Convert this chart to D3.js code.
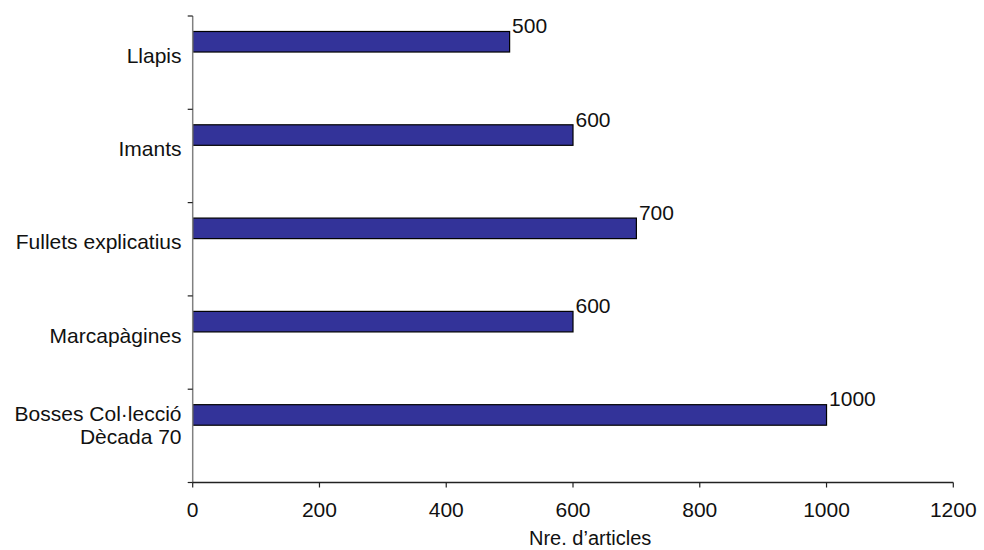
<!DOCTYPE html>
<html>
<head>
<meta charset="utf-8">
<script src="https://cdn.jsdelivr.net/npm/d3@7"></script>
<style>
  html, body { margin: 0; padding: 0; background: #fff; }
  svg { display: block; }
  text { font-family: "Liberation Sans", Arial, Helvetica, sans-serif; fill: #111; }
</style>
</head>
<body>
<svg id="chart" width="984" height="550"></svg>
<script>
// Data
const categories = ["Llapis", "Imants", "Fullets explicatius", "Marcapàgines", "Bosses Col·lecció|Dècada 70"];
const values = [500, 600, 700, 600, 1000];
const xTicks = [0, 200, 400, 600, 800, 1000, 1200];
const xTitle = "Nre. d’articles";

const svg = d3.select("#chart");
const x0 = 192.7, x1 = 953.3, yTop = 16, yBot = 482.5;

const x = d3.scaleLinear().domain([0, 1200]).range([x0, x1]);
const y = d3.scaleBand().domain(categories).range([yTop, yBot]).padding(0);
const bw = y.bandwidth();

// Bars
svg.append("g").selectAll("rect").data(categories).join("rect")
  .attr("x", x(0))
  .attr("y", c => y(c) + bw * 0.166)
  .attr("width", (c, i) => x(values[i]) - x(0))
  .attr("height", bw * 0.22)
  .attr("fill", "#333399")
  .attr("stroke", "#000")
  .attr("stroke-width", 1.2);

// Value labels
svg.append("g").selectAll("text").data(categories).join("text")
  .attr("x", (c, i) => x(values[i]) + 2.5)
  .attr("y", c => y(c) + bw * 0.166 + 1.8)
  .attr("font-size", 21)
  .text((c, i) => values[i]);

// Y axis
svg.append("line")
  .attr("x1", x0).attr("x2", x0).attr("y1", yTop).attr("y2", yBot)
  .attr("stroke", "#808080").attr("stroke-width", 1.5);
const yTickPos = categories.map(c => y(c)).concat([yBot]);
svg.append("g").selectAll("line").data(yTickPos).join("line")
  .attr("x1", x0 - 5).attr("x2", x0).attr("y1", d => d).attr("y2", d => d)
  .attr("stroke", "#222").attr("stroke-width", 1.2);

// Category labels
const catG = svg.append("g");
categories.forEach(c => {
  const lines = c.split("|");
  const cy = y(c) + bw / 2;
  const t = catG.append("text")
    .attr("text-anchor", "end")
    .attr("font-size", 21);
  if (lines.length === 1) {
    t.append("tspan").attr("x", 181.5).attr("y", cy).text(lines[0]);
  } else {
    t.append("tspan").attr("x", 181.5).attr("y", cy - 14.5).text(lines[0]);
    t.append("tspan").attr("x", 181.5).attr("y", cy + 8).text(lines[1]);
  }
});

// X axis
svg.append("line")
  .attr("x1", x0).attr("x2", x1).attr("y1", yBot).attr("y2", yBot)
  .attr("stroke", "#222").attr("stroke-width", 1.3);
svg.append("g").selectAll("line").data(xTicks).join("line")
  .attr("x1", d => x(d)).attr("x2", d => x(d)).attr("y1", yBot).attr("y2", yBot + 5)
  .attr("stroke", "#222").attr("stroke-width", 1.2);
svg.append("g").selectAll("text").data(xTicks).join("text")
  .attr("x", d => x(d)).attr("y", 517)
  .attr("text-anchor", "middle")
  .attr("font-size", 21)
  .text(d => d);

// X title
svg.append("text")
  .attr("x", 529).attr("y", 545)
  .attr("text-anchor", "start")
  .attr("font-size", 20)
  .text(xTitle);
</script>
</body>
</html>
